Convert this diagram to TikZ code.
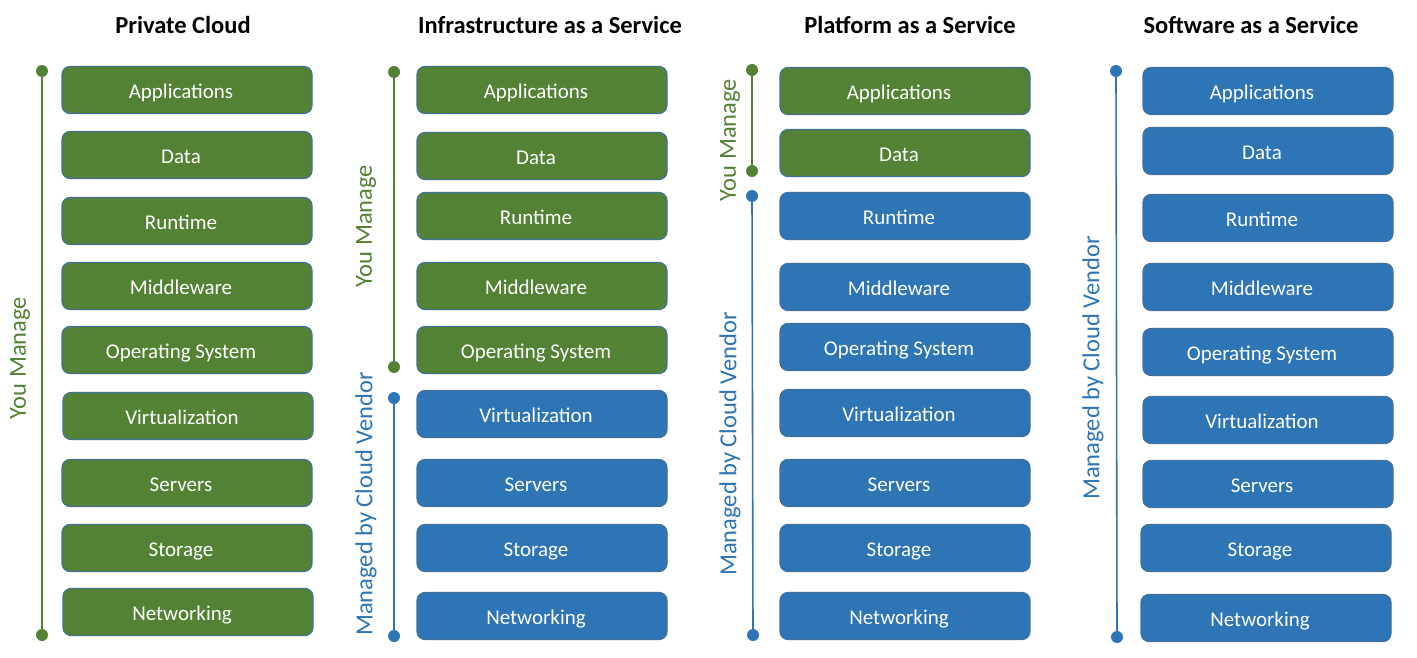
\documentclass[tikz,border=0pt]{standalone}
\usepackage{fontspec}
\setmainfont{Carlito}
\definecolor{cgreen}{HTML}{548235}
\definecolor{cblue}{HTML}{2E75B6}
\definecolor{cedge}{HTML}{41719C}
\begin{document}
\begin{tikzpicture}[x=1pt,y=-1pt,
  layerbox/.style={draw=cedge,line width=1.2pt,rounded corners=8pt,minimum width=250pt,minimum height=47pt,inner sep=0pt,text=white,font=\fontsize{21}{24}\selectfont,text height=19pt,text depth=2pt,execute at end node={\kern12pt}},
  gbox/.style={layerbox,fill=cgreen},
  bbox/.style={layerbox,fill=cblue},
  titletext/.style={font=\fontsize{24.5}{28}\selectfont\bfseries,text=black},
  sidelabel/.style={rotate=90,font=\fontsize{24.5}{28}\selectfont,inner sep=0pt},
  gline/.style={draw=cgreen,line width=1.6pt},
  bline/.style={draw=cblue,line width=1.6pt},
  gdot/.style={fill=cgreen},
  bdot/.style={fill=cblue}]
\useasboundingbox (0,0) rectangle (1417,658);
\fill[white] (0,0) rectangle (1417,658);
% titles
\node[titletext] (t1) at (183,25) {Private Cloud};
\node[titletext] (t2) at (550,25) {Infrastructure as a Service};
\node[titletext] (t3) at (910,25) {Platform as a Service};
\node[titletext] (t4) at (1251,25) {Software as a Service};
% column 1
\node[gbox] (a1) at (187,90) {Applications};
\node[gbox] (a2) at (187,155) {Data};
\node[gbox] (a3) at (187,221) {Runtime};
\node[gbox] (a4) at (187,286) {Middleware};
\node[gbox] (a5) at (187,350) {Operating System};
\node[gbox] (a6) at (188,416) {Virtualization};
\node[gbox] (a7) at (187,483) {Servers};
\node[gbox] (a8) at (187,548) {Storage};
\node[gbox] (a9) at (188,612) {Networking};
% column 2
\node[gbox] (b1) at (542,90) {Applications};
\node[gbox] (b2) at (542,156) {Data};
\node[gbox] (b3) at (542,216) {Runtime};
\node[gbox] (b4) at (542,286) {Middleware};
\node[gbox] (b5) at (542,350) {Operating System};
\node[bbox] (b6) at (542,414) {Virtualization};
\node[bbox] (b7) at (542,483) {Servers};
\node[bbox] (b8) at (542,548) {Storage};
\node[bbox] (b9) at (542,616) {Networking};
% column 3
\node[gbox] (c1) at (905,91) {Applications};
\node[gbox] (c2) at (905,153) {Data};
\node[bbox] (c3) at (905,216) {Runtime};
\node[bbox] (c4) at (905,287) {Middleware};
\node[bbox] (c5) at (905,347) {Operating System};
\node[bbox] (c6) at (905,413) {Virtualization};
\node[bbox] (c7) at (905,483) {Servers};
\node[bbox] (c8) at (905,548) {Storage};
\node[bbox] (c9) at (905,616) {Networking};
% column 4
\node[bbox] (d1) at (1268,91) {Applications};
\node[bbox] (d2) at (1268,151) {Data};
\node[bbox] (d3) at (1268,218) {Runtime};
\node[bbox] (d4) at (1268,287) {Middleware};
\node[bbox] (d5) at (1268,352) {Operating System};
\node[bbox] (d6) at (1268,420) {Virtualization};
\node[bbox] (d7) at (1268,484) {Servers};
\node[bbox] (d8) at (1266,548) {Storage};
\node[bbox] (d9) at (1266,618) {Networking};
% brackets
\coordinate (g1s) at (42,71);  \coordinate (g1e) at (42,635);
\coordinate (g2s) at (394,72); \coordinate (g2e) at (394,367);
\coordinate (u2s) at (394,398); \coordinate (u2e) at (394,636);
\coordinate (g3s) at (752,70); \coordinate (g3e) at (752,171);
\coordinate (u3s) at (752,196); \coordinate (u3e) at (753,635);
\coordinate (u4s) at (1116,71); \coordinate (u4e) at (1117,637);
\draw[gline] (g1s) -- (g1e);
\draw[gline] (g2s) -- (g2e);
\draw[bline] (u2s) -- (u2e);
\draw[gline] (g3s) -- (g3e);
\draw[bline] (u3s) -- (u3e);
\draw[bline] (u4s) -- (u4e);
\foreach \p in {g1s,g1e,g2s,g2e,g3s,g3e} \fill[gdot] (\p) circle (6pt);
\foreach \p in {u2s,u2e,u3s,u3e,u4s,u4e} \fill[bdot] (\p) circle (6pt);
% side labels
\node[sidelabel,text=cgreen] (l1) at (20,358) {You Manage};
\node[sidelabel,text=cgreen] (l2) at (366,226) {You Manage};
\node[sidelabel,text=cblue] (l3) at (366,504) {Managed by Cloud Vendor};
\node[sidelabel,text=cgreen] (l4) at (730,140) {You Manage};
\node[sidelabel,text=cblue] (l5) at (730,444) {Managed by Cloud Vendor};
\node[sidelabel,text=cblue] (l6) at (1093,368) {Managed by Cloud Vendor};
\end{tikzpicture}
\end{document}
